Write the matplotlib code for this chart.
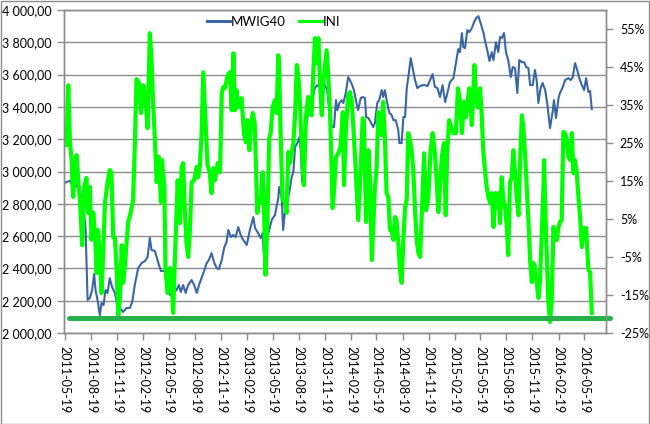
import matplotlib
matplotlib.use("Agg")
import matplotlib.pyplot as plt
import pandas as pd
from matplotlib.patches import Rectangle

plt.rcParams['font.family'] = ['Lato', 'DejaVu Sans']

start_date = "2011-05-19"

mwig_days = [0,6,18,29,41,53,64,73,80,88,96,103,108,115,123,129,136,143,150,158,166,176,184,194,205,217,229,237,246,258,270,282,291,299,305,317,328,338,346,354,361,370,378,385,393,401,408,416,425,434,446,455,464,472,481,490,499,507,516,526,534,542,552,561,569,575,584,592,601,610,620,628,640,651,663,669,680,689,696,700,710,719,728,739,751,754,763,768,774,780,790,798,804,810,818,825,830,835,841,848,856,862,872,880,888,898,907,915,923,930,939,947,954,959,966,974,980,989,997,1003,1011,1017,1024,1032,1041,1048,1056,1060,1068,1076,1085,1091,1099,1106,1115,1120,1126,1132,1142,1150,1156,1164,1173,1177,1185,1191,1197,1203,1208,1217,1224,1232,1240,1250,1259,1267,1276,1285,1294,1302,1311,1320,1329,1338,1346,1355,1367,1376,1384,1390,1397,1402,1408,1416,1423,1432,1440,1447,1455,1463,1473,1478,1486,1494,1502,1508,1517,1525,1531,1537,1545,1552,1560,1569,1576,1584,1592,1599,1608,1616,1623,1631,1637,1646,1654,1660,1666,1674,1681,1690,1698,1707,1717,1721,1728,1737,1742,1752,1760,1772,1780,1787,1795,1803,1810,1819,1827,1834,1842,1848,1854]
mwig_vals = [2930,2935,2943,2906,2916,2867,2823,2638,2204,2217,2266,2365,2266,2204,2111,2186,2173,2266,2248,2340,2285,2248,2173,2155,2130,2155,2155,2192,2297,2402,2433,2446,2470,2588,2514,2508,2439,2384,2384,2384,2310,2235,2248,2266,2266,2297,2254,2297,2248,2297,2328,2297,2248,2297,2340,2384,2433,2452,2495,2433,2402,2396,2452,2532,2563,2638,2594,2607,2594,2656,2600,2576,2545,2638,2718,2650,2619,2588,2619,2483,2576,2638,2700,2730,2836,2904,2842,2638,2743,2805,2873,2966,2997,3151,3176,3213,3133,2935,3089,3269,3362,3430,3461,3517,3535,3517,3548,3535,3504,3393,3275,3275,3442,3380,3424,3442,3424,3492,3585,3566,3535,3504,3442,3380,3455,3461,3455,3337,3331,3306,3275,3300,3424,3442,3504,3461,3504,3442,3362,3349,3318,3318,3257,3176,3176,3337,3337,3517,3578,3702,3640,3566,3517,3529,3535,3535,3529,3566,3603,3523,3517,3461,3535,3430,3486,3554,3578,3671,3758,3739,3857,3770,3764,3876,3863,3888,3925,3950,3962,3919,3857,3814,3752,3684,3739,3690,3801,3739,3832,3826,3857,3739,3690,3585,3647,3640,3486,3690,3677,3677,3647,3640,3535,3535,3628,3566,3424,3517,3548,3504,3411,3269,3380,3442,3331,3455,3486,3523,3566,3578,3566,3585,3671,3628,3578,3535,3504,3578,3492,3498,3387]

ini_days = [0,6,12,18,24,29,35,41,47,53,61,68,76,82,88,94,100,106,112,117,123,129,135,141,150,158,164,170,176,182,188,194,200,205,211,217,223,232,240,246,252,260,268,276,284,291,299,305,311,317,323,331,338,342,350,354,361,370,376,381,387,397,405,411,416,422,428,434,440,446,455,464,469,475,481,487,493,502,510,516,522,528,538,546,552,557,563,573,581,587,593,598,604,610,616,622,630,637,642,649,655,661,668,677,684,689,696,700,706,712,719,724,731,739,745,751,754,759,766,774,780,786,792,798,804,810,816,822,827,833,841,848,856,862,868,874,880,886,892,898,904,909,915,921,927,933,939,942,948,954,962,970,978,982,989,997,1003,1009,1015,1024,1032,1041,1048,1052,1060,1068,1074,1080,1085,1091,1097,1103,1109,1115,1120,1126,1132,1138,1144,1150,1156,1162,1167,1173,1179,1185,1191,1197,1203,1208,1214,1220,1226,1232,1238,1244,1250,1256,1264,1271,1279,1287,1294,1302,1308,1314,1320,1326,1334,1340,1345,1352,1360,1366,1376,1383,1390,1397,1404,1411,1416,1423,1432,1437,1441,1447,1453,1461,1467,1472,1478,1484,1490,1496,1502,1508,1514,1520,1525,1531,1537,1543,1549,1555,1560,1566,1572,1578,1584,1590,1596,1602,1608,1613,1619,1625,1631,1637,1643,1649,1654,1660,1666,1672,1678,1684,1686,1693,1701,1707,1713,1719,1725,1731,1737,1742,1748,1754,1760,1766,1772,1778,1784,1789,1795,1801,1807,1813,1819,1825,1834,1842,1848,1854]
ini_vals = [25.8,24.4,40.2,25.0,20.5,10.8,16.6,21.8,15.2,10.0,-1.9,13.4,15.8,6.6,13.4,-0.5,6.6,1.3,-9.2,2.1,-5.0,-14.5,-4.0,9.2,14.5,17.9,17.1,0.2,0.0,-7.6,-20.3,-15.5,-1.9,-11.8,-7.6,-1.3,4.2,6.8,10.0,23.9,41.8,41.0,32.9,40.2,36.3,28.9,53.9,46.8,34.4,25.8,14.7,21.3,9.5,20.5,13.4,-7.6,-14.5,-7.9,-11.1,-19.7,-5.8,15.2,3.9,18.7,19.7,7.3,-1.3,-5.0,2.1,14.7,15.2,18.7,16.0,19.2,27.6,43.6,33.6,19.2,17.1,11.8,18.4,15.2,19.7,17.3,38.1,39.7,39.4,42.9,43.6,33.6,48.6,33.6,38.9,34.4,36.3,36.8,27.6,25.2,31.0,23.1,29.7,32.9,30.2,6.6,10.0,9.5,17.3,10.0,-9.7,2.9,26.3,27.6,34.4,36.3,32.9,48.1,45.0,27.6,10.0,9.5,6.6,22.6,19.7,22.6,25.0,32.3,45.5,42.3,35.5,25.2,13.9,31.8,37.1,32.9,32.3,43.4,52.6,46.0,52.6,40.8,32.3,40.8,45.0,49.4,42.3,32.9,17.1,7.9,13.4,21.3,22.3,23.9,33.1,13.9,28.4,37.6,38.4,36.3,29.2,17.1,4.7,18.7,31.5,31.0,4.2,23.1,14.7,-5.8,2.9,13.4,18.7,33.1,31.8,27.1,35.8,26.5,11.8,10.8,2.1,2.1,-0.5,5.5,4.7,-1.1,-8.4,-11.8,-0.5,8.1,10.0,27.6,25.8,23.1,17.9,7.3,-0.5,-4.0,-5.0,6.6,22.3,7.3,10.8,23.1,27.6,22.3,15.2,6.8,13.4,21.3,25.0,6.0,22.3,31.0,29.2,27.6,27.6,39.4,36.3,27.6,35.8,31.8,35.5,39.4,29.7,38.1,45.5,36.3,34.4,39.4,31.8,23.1,17.9,13.4,10.8,9.2,11.8,2.9,11.8,8.1,11.8,3.9,16.0,10.0,8.1,2.9,-4.5,14.7,15.8,23.1,17.1,10.5,6.0,20.5,32.3,29.2,22.3,13.4,4.7,-5.8,-11.6,-6.6,-7.6,-11.8,-15.8,-11.1,1.3,13.4,20.5,1.3,-16.3,-22.1,-16.3,2.9,-0.5,-0.5,2.9,4.2,4.7,27.9,27.6,25.8,21.3,20.5,27.6,17.1,20.5,17.1,10.8,5.5,-2.4,2.6,2.6,-8.4,-9.0,-19.7]

threshold_days = [16, 1917]
threshold_vals = [-21.0, -21.0]

left_ticks = [2000, 2200, 2400, 2600, 2800, 3000, 3200, 3400, 3600, 3800, 4000]
right_ticks = [-25, -15, -5, 5, 15, 25, 35, 45, 55]
x_tick_labels = ["2011-05-19","2011-08-19","2011-11-19","2012-02-19","2012-05-19","2012-08-19",
                 "2012-11-19","2013-02-19","2013-05-19","2013-08-19","2013-11-19","2014-02-19",
                 "2014-05-19","2014-08-19","2014-11-19","2015-02-19","2015-05-19","2015-08-19",
                 "2015-11-19","2016-02-19","2016-05-19"]

t0 = pd.Timestamp(start_date)
def to_dates(days):
    return [t0 + pd.Timedelta(days=d) for d in days]

mwig_x = to_dates(mwig_days)
ini_x = to_dates(ini_days)
thr_x = to_dates(threshold_days)
xt = [pd.Timestamp(s) for s in x_tick_labels]

W, H = 650, 424
fig = plt.figure(figsize=(W/100, H/100), dpi=100)
ax = fig.add_axes([64/W, 1-333/H, (606-64)/W, (333-10)/H])
ax2 = ax.twinx()

FS = 9
grid_c = '#8c8c8c'
ax.set_ylim(2000, 4000)
ax.set_yticks(left_ticks)
ax.set_yticklabels([f"{v:,.2f}".replace(',', ' ').replace('.', ',') for v in left_ticks])
ax.grid(axis='y', color=grid_c, lw=1)
ax.set_axisbelow(True)

ax.plot(mwig_x, mwig_vals, color='#3a66a3', lw=1.5, label='MWIG40')
ax2.plot(ini_x, ini_vals, color='#00ff00', lw=3.0, label='INI', solid_joinstyle='round')
ax2.plot(thr_x, threshold_vals, color='#26b24b', lw=3.6, solid_capstyle='round', clip_on=False)

ax2.set_ylim(-25, 60)
ax2.set_yticks(right_ticks)
ax2.set_yticklabels([f"{t}%" for t in right_ticks])

ax.set_xlim(t0 - pd.Timedelta(days=3), t0 + pd.Timedelta(days=1904))
ax.set_xticks(xt)
ax.set_xticklabels(x_tick_labels, rotation=-90)

for a in (ax, ax2):
    for s in a.spines.values():
        s.set_color(grid_c)
        s.set_linewidth(1)
    a.tick_params(colors=grid_c, labelcolor='black', labelsize=FS, length=5, width=1, direction='out')
ax.tick_params(axis='y', pad=4)
ax2.tick_params(axis='y', pad=5)
ax.tick_params(axis='x', pad=4)

h1, l1 = ax.get_legend_handles_labels()
h2, l2 = ax2.get_legend_handles_labels()
leg = fig.legend(h1 + h2, l1 + l2, loc='center', bbox_to_anchor=(274/W, 1-22/H), ncol=2,
                 frameon=False, fontsize=FS + 0.5, handlelength=1.7, handletextpad=0.1, columnspacing=1.0)
for line in leg.get_lines():
    line.set_linewidth(2.2)

fig.patches.append(Rectangle((0.5/W, 0.5/H), 1-1.5/W, 1-1.5/H, transform=fig.transFigure,
                             fill=False, edgecolor='#8c8c8c', lw=1))

fig.savefig('out.png', dpi=100)
